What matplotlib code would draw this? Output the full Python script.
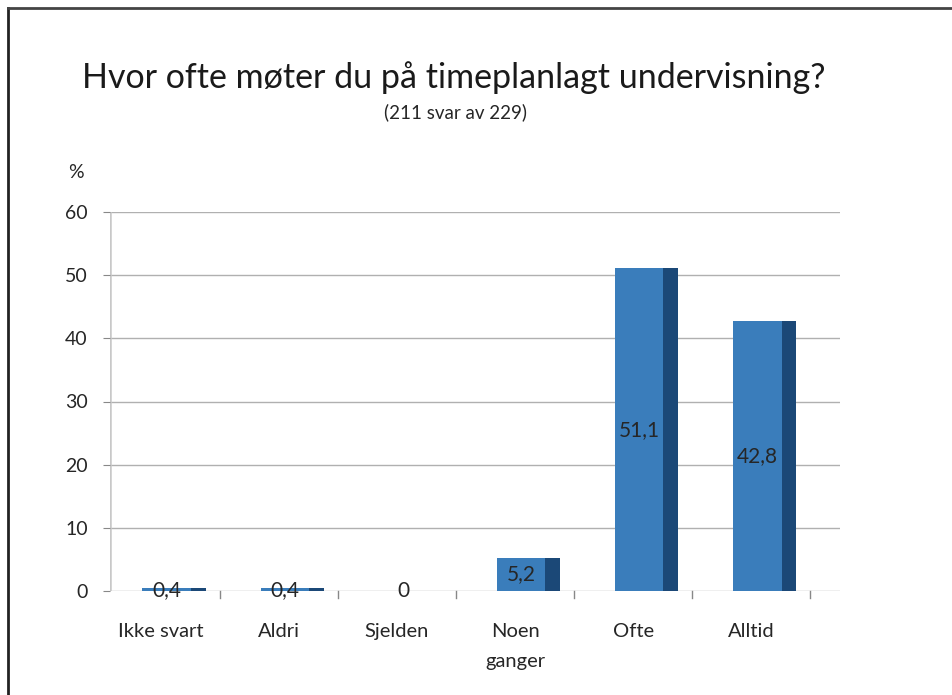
import matplotlib.pyplot as plt
import numpy

plt.rcParams['font.family'] = ['Lato', 'DejaVu Sans']

# data
categories = ["Ikke svart", "Aldri", "Sjelden", "Noen\nganger", "Ofte", "Alltid"]
percent = [0.4, 0.4, 0.0, 5.2, 51.1, 42.8]
value_labels = ["0,4", "0,4", "0", "5,2", "51,1", "42,8"]
y_ticks = [0, 10, 20, 30, 40, 50, 60]

_FRONT = "#3a7dbb"
_SIDE = "#1b4877"
_GRID = "#b0b0b0"
_TEXT = "#262626"
_BAR_W = 0.41
_SIDE_W = 0.125

fig = plt.figure(figsize=(9.52, 6.95), dpi=100)

# frame line on top and left (picture is cropped on the other sides)
fig.add_artist(plt.Line2D([8 / 952, 8 / 952], [0, 1 - 8 / 695], color="#222222", lw=2.0))
fig.add_artist(plt.Line2D([8 / 952, 1], [1 - 8 / 695, 1 - 8 / 695], color="#444444", lw=2.0))

ax = fig.add_axes([110 / 952, 1 - 591 / 695, 730 / 952, 379 / 695])
x = numpy.arange(len(categories))

ax.set_xlim(-0.48, 5.7)
ax.set_ylim(0, 60)

for t in y_ticks:
    ax.axhline(t, color=_GRID, lw=1.0, zorder=0)
ax.axvline(-0.48, color="#c8c8c8", lw=1.8, zorder=0)

# side face then front face of each bar
ax.bar(x + _BAR_W / 2, percent, width=_SIDE_W, align='edge', color=_SIDE, zorder=2)
ax.bar(x, percent, width=_BAR_W, color=_FRONT, zorder=3)

for i in range(len(percent)):
    ax.text(x[i], percent[i] / 2, value_labels[i], ha='center', va='center',
            fontsize=15, color=_TEXT, zorder=4)

# small tick marks under the floor between categories
for i in range(len(categories)):
    ax.plot([i + 0.45, i + 0.45], [0, -1.1], color="#888888", lw=1.0, clip_on=False)

ax.set_yticks(y_ticks)
ax.set_yticklabels([str(t) for t in y_ticks], fontsize=14, color=_TEXT)
ax.tick_params(axis='y', length=5, color="#888888", pad=11)
ax.set_xticks(x - 0.05)
ax.set_xticklabels(categories, fontsize=14.5, color=_TEXT, va='top', linespacing=1.9)
ax.tick_params(axis='x', length=0, pad=23)
for s in ax.spines.values():
    s.set_visible(False)

fig.text(76 / 952, 1 - 172 / 695, "%", fontsize=14, color=_TEXT, ha='center', va='center')
fig.text(454 / 952, 1 - 88 / 695, "Hvor ofte møter du på timeplanlagt undervisning?",
         fontsize=24.5, color="#1a1a1a", ha='center', va='baseline')
fig.text(455 / 952, 1 - 118 / 695, "(211 svar av 229)", fontsize=13.5, color=_TEXT,
         ha='center', va='baseline')

fig.savefig("out.png", dpi=100)
